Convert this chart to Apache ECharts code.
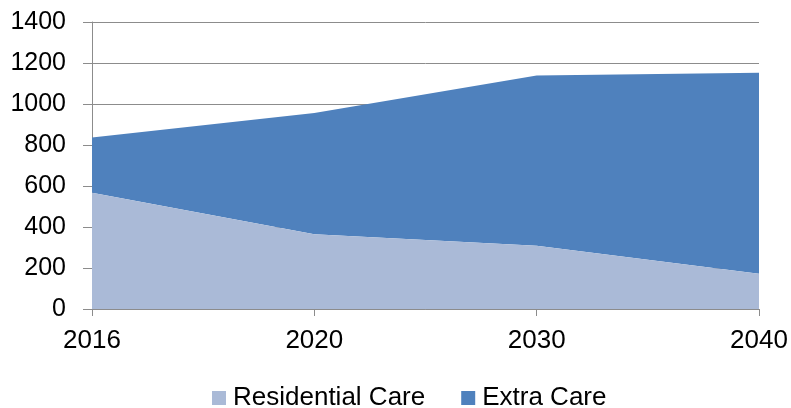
<!DOCTYPE html>
<html>
<head>
<meta charset="utf-8">
<script src="https://cdn.jsdelivr.net/npm/echarts@6/dist/echarts.min.js"></script>
<style>
  html, body { margin: 0; padding: 0; background: #ffffff; }
  #chart { width: 791px; height: 408px; }
</style>
</head>
<body>
<div id="chart"></div>
<script>
// Care places by year, stacked
const years = ['2016', '2020', '2030', '2040'];
const residentialCare = [567, 365, 309, 172];
const extraCare = [269, 591, 830, 980];
const yTicks = { min: 0, max: 1400, interval: 200 };

const FONT = '"Liberation Sans", Arial, sans-serif';

const chart = echarts.init(document.getElementById('chart'), null, { renderer: 'canvas' });
chart.setOption({
  animation: false,
  backgroundColor: '#ffffff',
  grid: { left: 92, right: 32, top: 22, bottom: 99, containLabel: false },
  legend: {
    top: 380,
    left: 207,
    icon: 'rect',
    itemWidth: 14,
    itemHeight: 14,
    itemGap: 36,
    textStyle: { fontFamily: FONT, fontSize: 26, color: '#000000', padding: [0, 0, 0, 2] },
    data: ['Residential Care', 'Extra Care']
  },
  xAxis: {
    type: 'category',
    data: years,
    boundaryGap: false,
    axisLine: { lineStyle: { color: '#8c8c8c', width: 1 } },
    axisTick: { show: true, length: 7, lineStyle: { color: '#8c8c8c' } },
    axisLabel: { fontFamily: FONT, fontSize: 26, color: '#000000', margin: 19 },
    splitLine: { show: false }
  },
  yAxis: {
    type: 'value',
    min: yTicks.min,
    max: yTicks.max,
    interval: yTicks.interval,
    axisLine: { show: true, lineStyle: { color: '#8c8c8c', width: 1 } },
    axisTick: { show: true, length: 9, lineStyle: { color: '#8c8c8c' } },
    axisLabel: {
      fontFamily: FONT, fontSize: 25, color: '#000000', margin: 26,
      formatter: (v) => String(v)
    },
    splitLine: { show: true, lineStyle: { color: '#8c8c8c', width: 1 } }
  },
  series: [
    {
      name: 'Residential Care',
      type: 'line',
      stack: 'care',
      data: residentialCare,
      symbol: 'none',
      lineStyle: { width: 0 },
      areaStyle: { color: '#aabad7', opacity: 1 },
      itemStyle: { color: '#aabad7' },
      z: 3
    },
    {
      name: 'Extra Care',
      type: 'line',
      stack: 'care',
      data: extraCare,
      symbol: 'none',
      lineStyle: { width: 0 },
      areaStyle: { color: '#4f81bd', opacity: 1 },
      itemStyle: { color: '#4f81bd' },
      z: 2
    }
  ]
});
</script>
</body>
</html>
